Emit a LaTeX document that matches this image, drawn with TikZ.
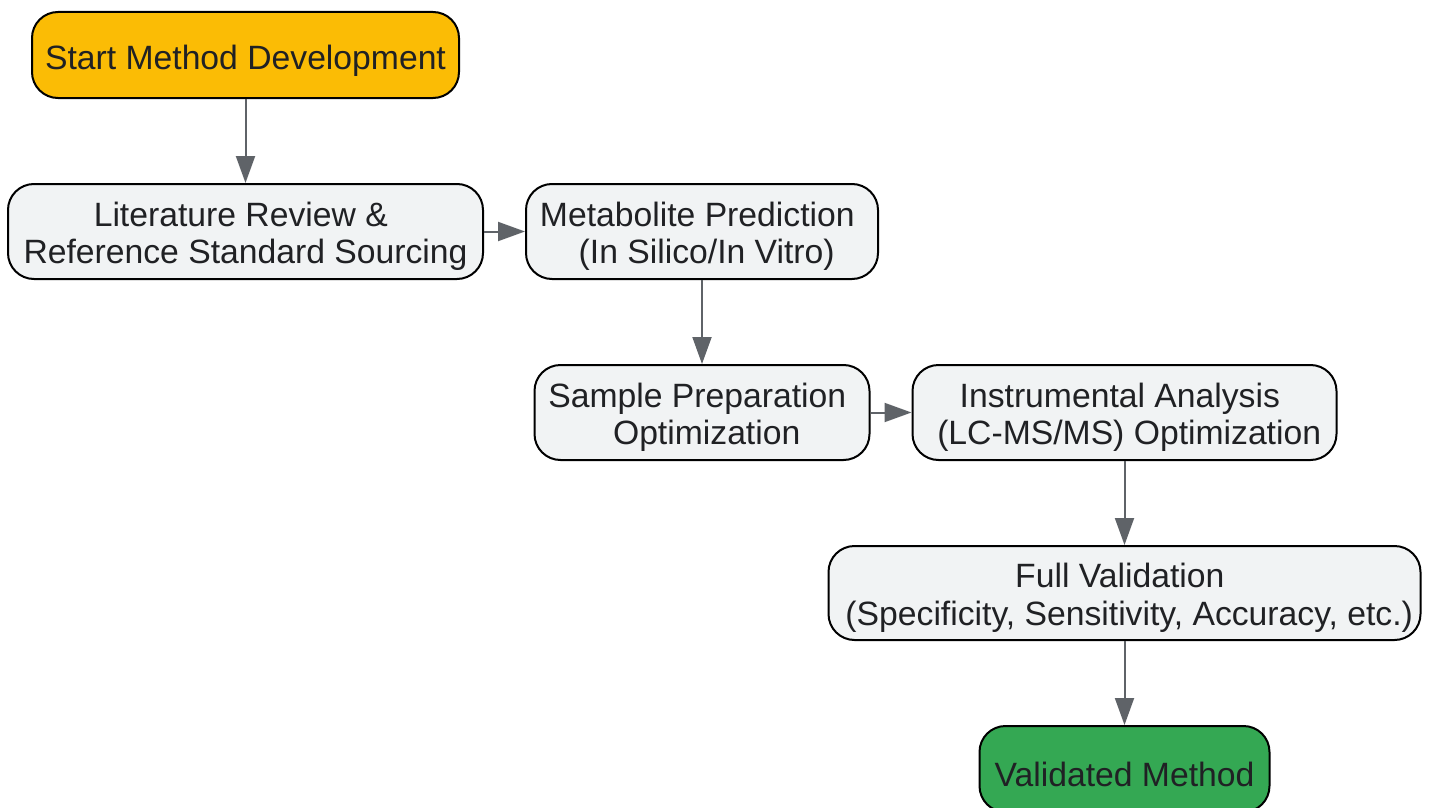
\documentclass[tikz,border=0pt]{standalone}
\usepackage{fontspec}
\setmainfont{Liberation Sans}
\usepackage{xcolor}
\usepackage{tikz}
\usetikzlibrary{positioning,arrows.meta}

\definecolor{startyellow}{HTML}{FBBC05}
\definecolor{stepgrey}{HTML}{F1F3F4}
\definecolor{endgreen}{HTML}{34A853}
\definecolor{arrowgrey}{HTML}{5F6368}
\definecolor{textdark}{HTML}{202124}

% a space kept at either end of a line
\newcommand{\wsp}{\hspace*{0.278em}}
% taller first line, to sit the text a little lower
\newcommand{\tall}{\rule{0pt}{34pt}}

\begin{document}
\begin{tikzpicture}[
    node distance=84pt and 41pt,
    >={Triangle[length=27pt,width=19pt]},
    basebox/.style={rectangle, rounded corners=26pt, draw, line width=2pt, text=textdark, align=center, inner xsep=2pt, font=\fontsize{33.7}{37.5}\selectfont},
    block/.style={basebox, fill=stepgrey, minimum height=95pt},
    startbox/.style={basebox, fill=startyellow, minimum height=86pt, execute at begin node={\rule{0pt}{35pt}}},
    endbox/.style={basebox, fill=endgreen, minimum height=86pt, execute at begin node={\rule{0pt}{35pt}}},
    link/.style={->, draw=arrowgrey, fill=arrowgrey, line width=2pt}
]
\useasboundingbox (0,0) rectangle (1430pt,-808pt);

\node [startbox, minimum width=427pt] (start) at (245.5pt,-55pt) {Start Method Development};
\node [block, minimum width=475pt, below=of start] (review) {\tall Literature Review \&\wsp\\Reference Standard Sourcing};
\node [block, minimum width=352pt, right=of review] (predict) {\tall Metabolite Prediction\wsp\\\wsp(In Silico/In Vitro)};
\node [block, minimum width=335pt, below=of predict] (prep) {\tall Sample Preparation\wsp\\\wsp Optimization};
\node [block, minimum width=424pt, right=of prep] (instr) {\tall Instrumental Analysis\wsp\\\wsp(LC-MS/MS) Optimization};
\node [block, minimum width=592pt, minimum height=94pt, below=of instr] (valid) {\tall Full Validation\wsp\\\wsp(Specificity, Sensitivity, Accuracy, etc.)};
\node [endbox, minimum width=290pt, below=of valid] (method) {Validated Method};

\draw [link] (start) -- (review);
\draw [link] (review) -- (predict);
\draw [link] (predict) -- (prep);
\draw [link] (prep) -- (instr);
\draw [link] (instr) -- (valid);
\draw [link] (valid) -- (method);

\end{tikzpicture}
\end{document}
